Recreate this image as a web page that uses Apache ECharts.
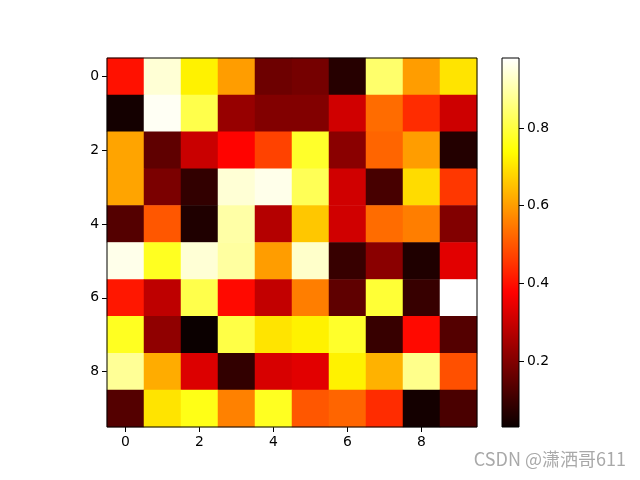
<!DOCTYPE html>
<html>
<head>
<meta charset="utf-8">
<script src="https://cdn.jsdelivr.net/npm/echarts@6/dist/echarts.min.js"></script>
<style>html,body{margin:0;padding:0;background:#fff}#c{width:640px;height:480px}</style>
</head>
<body>
<div id="c"></div>
<script>
var xCats = ['0','1','2','3','4','5','6','7','8','9'];
var yCats = ['0','1','2','3','4','5','6','7','8','9'];
var row0 = [0.40, 0.94, 0.72, 0.60, 0.17, 0.18, 0.07, 0.84, 0.60, 0.70];
var row1 = [0.043, 0.97, 0.81, 0.23, 0.20, 0.20, 0.31, 0.53, 0.44, 0.305];
var row2 = [0.61, 0.15, 0.30, 0.38, 0.47, 0.78, 0.21, 0.52, 0.60, 0.065];
var row3 = [0.61, 0.19, 0.085, 0.94, 0.96, 0.82, 0.31, 0.115, 0.69, 0.455];
var row4 = [0.135, 0.50, 0.058, 0.895, 0.27, 0.66, 0.31, 0.53, 0.555, 0.20];
var row5 = [0.96, 0.77, 0.94, 0.89, 0.60, 0.93, 0.093, 0.21, 0.058, 0.335];
var row6 = [0.41, 0.285, 0.81, 0.39, 0.29, 0.555, 0.15, 0.79, 0.093, 0.98];
var row7 = [0.77, 0.22, 0.03, 0.805, 0.70, 0.72, 0.78, 0.093, 0.39, 0.135];
var row8 = [0.88, 0.62, 0.327, 0.085, 0.32, 0.335, 0.72, 0.63, 0.87, 0.49];
var row9 = [0.135, 0.70, 0.76, 0.56, 0.77, 0.50, 0.52, 0.44, 0.043, 0.12];
var rows = [row0,row1,row2,row3,row4,row5,row6,row7,row8,row9];
var cbTicks = [0.2, 0.4, 0.6, 0.8];

var vmin = Infinity, vmax = -Infinity;
rows.forEach(function(r){ r.forEach(function(v){ vmin=Math.min(vmin,v); vmax=Math.max(vmax,v); }); });

var data = [];
rows.forEach(function(r, yi){ r.forEach(function(v, xi){ data.push([xi, yi, v]); }); });

// matplotlib 'hot' colormap
function hot(t){
  var r = t < 0.365079 ? 0.0416 + (1-0.0416)*t/0.365079 : 1;
  var g = t < 0.365079 ? 0 : (t < 0.746032 ? (t-0.365079)/(0.746032-0.365079) : 1);
  var b = t < 0.746032 ? 0 : (t-0.746032)/(1-0.746032);
  return 'rgb(' + Math.round(r*255) + ',' + Math.round(g*255) + ',' + Math.round(b*255) + ')';
}
var cmap = [], stops = [];
for (var i = 0; i <= 100; i++){ cmap.push(hot(i/100)); stops.push({offset: 1 - i/100, color: hot(i/100)}); }

var font = 'DejaVu Sans';
var chart = echarts.init(document.getElementById('c'), null, {renderer:'canvas'});
chart.setOption({
  animation: false,
  backgroundColor: '#fff',
  grid: [
    {left:107, top:58, width:370, height:369, show:true, z:10, borderColor:'#000', borderWidth:1, backgroundColor:'transparent'},
    {left:502, top:58, width:17, height:369, show:true, z:10, borderColor:'#000', borderWidth:1, backgroundColor:'transparent'}
  ],
  xAxis: [
    {type:'category', data:xCats, gridIndex:0, position:'bottom',
     axisLine:{show:false},
     axisTick:{show:true, alignWithLabel:true, interval:1, length:5, lineStyle:{color:'#000', width:1}},
     axisLabel:{interval:1, margin:8, color:'#000', fontFamily:font, fontSize:13.9},
     splitLine:{show:false}},
    {type:'category', data:[''], gridIndex:1, axisLine:{show:false}, axisTick:{show:false}, axisLabel:{show:false}}
  ],
  yAxis: [
    {type:'category', data:yCats, gridIndex:0, inverse:true,
     axisLine:{show:false},
     axisTick:{show:true, alignWithLabel:true, interval:1, length:5, lineStyle:{color:'#000', width:1}},
     axisLabel:{interval:1, margin:8, color:'#000', fontFamily:font, fontSize:13.9},
     splitLine:{show:false}},
    {type:'value', gridIndex:1, position:'right', min:vmin, max:vmax,
     axisLine:{show:false}, splitLine:{show:false},
     axisTick:{show:true, customValues:cbTicks, length:5, lineStyle:{color:'#000', width:1}},
     axisLabel:{show:true, customValues:cbTicks, margin:8, color:'#000', fontFamily:font, fontSize:13.9,
       formatter:function(v){ return v.toFixed(1); }}}
  ],
  visualMap: {show:false, type:'continuous', min:vmin, max:vmax, seriesIndex:0, dimension:2, inRange:{color:cmap}},
  series: [
    {type:'heatmap', xAxisIndex:0, yAxisIndex:0, data:data, itemStyle:{borderWidth:0}, emphasis:{disabled:true}},
    {type:'custom', xAxisIndex:1, yAxisIndex:1, data:[[0, vmin, vmax]], silent:true,
     renderItem:function(params, api){
       var top = api.coord([0, api.value(2)]);
       var bot = api.coord([0, api.value(1)]);
       var w = api.size([1, 0])[0];
       return {type:'rect', shape:{x: top[0]-w/2, y: top[1], width: w, height: bot[1]-top[1]},
         style:{fill: new echarts.graphic.LinearGradient(0,0,0,1, stops)}};
     }}
  ],
  graphic: [
    {type:'text', right:14, top:450, style:{text:'CSDN @潇洒哥611', fill:'#a9a9a9', font:'18px "Noto Sans CJK SC", "DejaVu Sans", sans-serif'}}
  ]
});
</script>
</body>
</html>
